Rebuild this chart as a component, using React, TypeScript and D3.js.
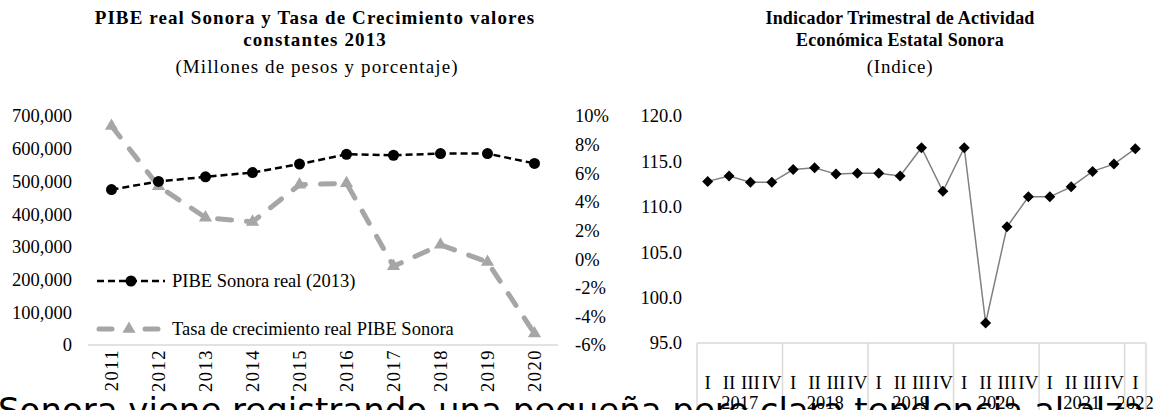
import React from 'react';
import * as d3 from 'd3';

// Left chart data
const years = ['2011', '2012', '2013', '2014', '2015', '2016', '2017', '2018', '2019', '2020'];
const pibeReal = [475000, 500000, 514000, 527000, 553000, 583000, 580000, 585000, 585000, 555000];
const tasaCrecimiento = [9.3, 5.1, 2.9, 2.6, 5.2, 5.3, -0.5, 1.0, -0.2, -5.2];
const pibeTicks = [0, 100000, 200000, 300000, 400000, 500000, 600000, 700000];
const tasaTicks = [-6, -4, -2, 0, 2, 4, 6, 8, 10];

// Right chart data
const quarterYears = ['2017', '2018', '2019', '2020', '2021', '2022'];
const quarterCounts = [4, 4, 4, 4, 4, 1];
const quarterNames = ['I', 'II', 'III', 'IV'];
const itaee = [
  112.8, 113.4, 112.7, 112.7,
  114.1, 114.3, 113.6, 113.7,
  113.7, 113.4, 116.5, 111.7,
  116.5, 97.2, 107.8, 111.1,
  111.1, 112.2, 113.9, 114.7,
  116.4,
];
const itaeeTicks = [95, 100, 105, 110, 115, 120];

const serif = '"Liberation Serif", "Times New Roman", serif';
const fs = 18.5;

export default function App() {
  const W = 1159, H = 410;

  // left scales
  const x1 = d3.scaleBand<string>().domain(years).range([88, 558]);
  const y1 = d3.scaleLinear().domain([0, 700000]).range([345, 116]);
  const y1r = d3.scaleLinear().domain([-6, 10]).range([345, 116]);
  const fmtMiles = d3.format(',');
  const cx1 = (i: number) => (x1(years[i]) as number) + x1.bandwidth() / 2;

  const linePibe = d3.line<number>().x((_, i) => cx1(i)).y(d => y1(d));
  const lineTasa = d3.line<number>().x((_, i) => cx1(i)).y(d => y1r(d));

  // right scales
  const qKeys = d3.range(itaee.length).map(String);
  const x2 = d3.scaleBand<string>().domain(qKeys).range([697, 1146]);
  const y2 = d3.scaleLinear().domain([95, 120]).range([343, 116]);
  const cx2 = (i: number) => (x2(String(i)) as number) + x2.bandwidth() / 2;
  const lineItaee = d3.line<number>().x((_, i) => cx2(i)).y(d => y2(d));

  const quarterLabels: string[] = [];
  quarterCounts.forEach(c => { for (let k = 0; k < c; k++) quarterLabels.push(quarterNames[k]); });
  const starts = quarterCounts.map((_, i) => d3.sum(quarterCounts.slice(0, i)));
  const bw = x2.bandwidth();

  const tri = d3.symbol().type(d3.symbolTriangle).size(75)();
  const diamond = 'M0,-5.5L5.5,0L0,5.5L-5.5,0Z';

  return (
    <div style={{ position: 'absolute', left: 0, top: 0 }}>
      <svg width={W} height={H} style={{ display: 'block', background: '#fff' }}>
        <rect width={W} height={H} fill="#fff" />
        {/* titles */}
        <g fontFamily={serif} textAnchor="middle" fill="#000">
          <text x={315} y={24} fontSize={19} fontWeight="bold" letterSpacing={1.1}>PIBE real Sonora y Tasa de Crecimiento valores</text>
          <text x={315} y={46} fontSize={19} fontWeight="bold" letterSpacing={1.1}>constantes 2013</text>
          <text x={317} y={73} fontSize={19} letterSpacing={1.1}>(Millones de pesos y porcentaje)</text>
          <text x={900} y={24} fontSize={18} fontWeight="bold" letterSpacing={0.2}>Indicador Trimestral de Actividad</text>
          <text x={900} y={46} fontSize={18} fontWeight="bold" letterSpacing={0.2}>Económica Estatal Sonora</text>
          <text x={900} y={73} fontSize={19} letterSpacing={0.8}>(Indice)</text>
        </g>

        {/* left chart axes */}
        <line x1={88} x2={558} y1={345} y2={345} stroke="#d9d9d9" strokeWidth={1.5} />
        <g fontFamily={serif} fontSize={fs} fill="#000">
          {pibeTicks.map(t => (
            <text key={t} x={72} y={y1(t)} dy="0.35em" textAnchor="end">{fmtMiles(t)}</text>
          ))}
          {tasaTicks.map(t => (
            <text key={t} x={575} y={y1r(t)} dy="0.35em" textAnchor="start">{t + '%'}</text>
          ))}
          {years.map((yr, i) => (
            <text key={yr} transform={`translate(${cx1(i) + 6},349) rotate(-90)`} textAnchor="end" letterSpacing={1.5}>{yr}</text>
          ))}
        </g>

        {/* tasa series */}
        <path d={lineTasa(tasaCrecimiento) || ''} fill="none" stroke="#a6a6a6" strokeWidth={5}
          strokeDasharray="14,15" strokeLinecap="round" strokeLinejoin="round" />
        {tasaCrecimiento.map((v, i) => (
          <path key={i} d={tri || ''} transform={`translate(${cx1(i)},${y1r(v)})`} fill="#a6a6a6" />
        ))}

        {/* pibe series */}
        <path d={linePibe(pibeReal) || ''} fill="none" stroke="#000" strokeWidth={2.5} strokeDasharray="7,4" />
        {pibeReal.map((v, i) => (
          <circle key={i} cx={cx1(i)} cy={y1(v)} r={5.5} fill="#000" />
        ))}

        {/* legend */}
        <g fontFamily={serif} fontSize={fs} fill="#000">
          <line x1={97} x2={165} y1={281} y2={281} stroke="#000" strokeWidth={2.5} strokeDasharray="7,4" />
          <circle cx={131} cy={281} r={5.5} fill="#000" />
          <text x={172} y={281} dy="0.35em">PIBE Sonora real (2013)</text>
          <line x1={99} x2={112} y1={329} y2={329} stroke="#a6a6a6" strokeWidth={5} strokeLinecap="round" />
          <line x1={145} x2={158} y1={329} y2={329} stroke="#a6a6a6" strokeWidth={5} strokeLinecap="round" />
          <path d={tri || ''} transform="translate(129,329)" fill="#a6a6a6" />
          <text x={172} y={329} dy="0.35em">Tasa de crecimiento real PIBE Sonora</text>
        </g>

        {/* right chart */}
        <g fontFamily={serif} fontSize={fs} fill="#000">
          {itaeeTicks.map(t => (
            <text key={t} x={682} y={y2(t)} dy="0.35em" textAnchor="end">{t.toFixed(1)}</text>
          ))}
          {quarterLabels.map((q, i) => (
            <text key={i} x={cx2(i)} y={389} textAnchor="middle" fontSize={19}>{q}</text>
          ))}
          {quarterYears.map((yr, j) => (
            <text key={yr} x={(x2(String(starts[j])) as number) + (quarterCounts[j] * bw) / 2} y={409} textAnchor="middle">{yr}</text>
          ))}
        </g>
        <line x1={697} x2={1146} y1={343} y2={343} stroke="#d9d9d9" strokeWidth={1.5} />
        {starts.concat([itaee.length]).map((s, j) => {
          const xx = s < itaee.length ? (x2(String(s)) as number) : x2.range()[1];
          return <line key={j} x1={xx} x2={xx} y1={343} y2={H} stroke="#d9d9d9" strokeWidth={1.5} />;
        })}
        <path d={lineItaee(itaee) || ''} fill="none" stroke="#808080" strokeWidth={1.5} />
        {itaee.map((v, i) => (
          <path key={i} d={diamond} transform={`translate(${cx2(i)},${y2(v)})`} fill="#000" />
        ))}

        {/* body text running under the charts */}
        <text x={-2} y={422} fontFamily={'"DejaVu Sans", sans-serif'} fontSize={34} fill="#000">
          Sonora viene registrando una pequeña pero clara tendencia al alza
        </text>
      </svg>
    </div>
  );
}
